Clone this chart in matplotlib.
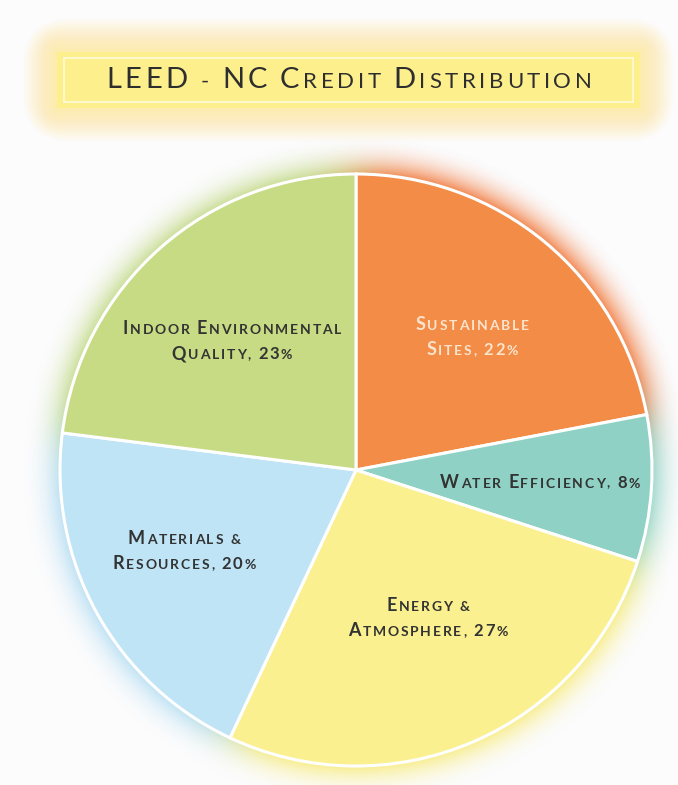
import numpy as np
import matplotlib.pyplot as plt
from matplotlib.colors import to_rgb
from matplotlib.patches import Rectangle, FancyBboxPatch
from matplotlib.offsetbox import TextArea, HPacker, VPacker, AnnotationBbox

# chart data
title = "LEED - NC Credit Distribution"
categories = ["Sustainable Sites", "Water Efficiency", "Energy & Atmosphere",
              "Materials & Resources", "Indoor Environmental Quality"]
label_lines = [["Sustainable", "Sites, 22%"],
               ["Water Efficiency, 8%"],
               ["Energy &", "Atmosphere, 27%"],
               ["Materials &", "Resources, 20%"],
               ["Indoor Environmental", "Quality, 23%"]]
shares = [22, 8, 27, 20, 23]
colors = ["#F28C46", "#8FD2C5", "#FAF08F", "#BEE4F6", "#C6DB83"]
glow_colors = ["#F2783A", "#7FCDBE", "#F8EC7A", "#A9D9F2", "#B9D473"]
glow_strength = [0.9, 0.75, 0.85, 0.75, 0.75]
text_colors = ["#FBE3CC", "#333333", "#333333", "#333333", "#333333"]

W, H = 678, 785
cx, cy, R = 356, H - 470, 296
label_pos = [(472, H - 337), (540, H - 482), (428, H - 618),
             (184, H - 551), (232, H - 341)]

FONT = "Lato"

fig = plt.figure(figsize=(W / 100, H / 100), dpi=100)
fig.patch.set_facecolor("#FCFCFD")
ax = fig.add_axes([0, 0, 1, 1])
ax.set_xlim(0, W)
ax.set_ylim(0, H)
ax.axis('off')


def sc_line(text, big, small, color, track=1.2, weight='bold'):
    # fake small caps, one TextArea per character so we get tracking
    boxes = []
    words = text.split(' ')
    for wi, word in enumerate(words):
        for j, ch in enumerate(word):
            if ch.isalpha() and (j == 0 or word.isupper()):
                size = big
            elif ch.isdigit():
                size = (big + small) / 2 + 0.5
            else:
                size = small
            boxes.append(TextArea(ch.upper(), textprops=dict(
                size=size, color=color, family=FONT, weight=weight)))
        if wi < len(words) - 1:
            boxes.append(TextArea(" ", textprops=dict(size=small, family=FONT)))
    return HPacker(children=boxes, align='baseline', pad=0, sep=track)


def sc_block(lines, big, small, color, track=1.2, vsep=4, weight='bold'):
    rows = [sc_line(l, big, small, color, track, weight) for l in lines]
    return VPacker(children=rows, align='center', pad=0, sep=vsep)


# title box with glow
tx0, ty0, tw, th = 57, H - 108, 583, 56
for k in range(26, 0, -1):
    ax.add_patch(FancyBboxPatch((tx0 - k * 1.3, ty0 - k * 1.3), tw + k * 2.6, th + k * 2.6,
                                boxstyle="round,pad=0,rounding_size=%g" % (k * 1.8),
                                facecolor="#FCEC80", edgecolor='none', alpha=0.03, zorder=1))
ax.add_patch(Rectangle((tx0, ty0), tw, th, facecolor="#FCEF8C", edgecolor='none', zorder=2))
ax.add_patch(Rectangle((tx0 + 7, ty0 + 6), tw - 14, th - 12, facecolor='none',
                       edgecolor="#FFF8CC", lw=1.5, zorder=3))
tb = sc_block([title], 21, 16, "#2E2E2E", track=2.6, weight='normal')
ax.add_artist(AnnotationBbox(tb, (349, H - 80), frameon=False, pad=0,
                             box_alignment=(0.5, 0.5), zorder=4))

# soft glow around the pie, blended between neighbouring slices
X, Y = np.meshgrid(np.arange(W) + 0.5, np.arange(H) + 0.5)
dist = np.hypot(X - cx, Y - cy)
phi = (90 - np.degrees(np.arctan2(Y - cy, X - cx))) % 360
edges = np.cumsum([0] + shares) * 3.6
sig = lambda v: 1 / (1 + np.exp(-v))
weights = []
for i in range(len(shares)):
    d0 = ((phi - edges[i] + 180) % 360) - 180
    d1 = ((edges[i + 1] - phi + 180) % 360) - 180
    weights.append(sig(d0 / 3.0) * sig(d1 / 3.0))
weights = np.array(weights)
weights /= weights.sum(axis=0)
rgb = np.zeros((H, W, 3))
amp = np.zeros((H, W))
for i in range(len(shares)):
    rgb += weights[i][..., None] * np.array(to_rgb(glow_colors[i]))
    amp += weights[i] * glow_strength[i]
t = np.clip((dist - R) / 42.0, 0, 1)
alpha = amp * (1 - t) ** 2.4
glow = np.dstack([rgb, alpha])
ax.imshow(glow, extent=(0, W, 0, H), origin='lower', zorder=1, interpolation='bilinear')

ax.pie(shares, colors=colors, startangle=90, counterclock=False,
       center=(cx, cy), radius=R,
       wedgeprops=dict(edgecolor='white', linewidth=2.2, zorder=5))
ax.set_xlim(0, W)
ax.set_ylim(0, H)
ax.set_aspect('equal')
ax.axis('off')

for lines, (x, y), c in zip(label_lines, label_pos, text_colors):
    blk = sc_block(lines, 13, 10, c, track=1.3, vsep=6)
    ax.add_artist(AnnotationBbox(blk, (x, y), frameon=False, pad=0,
                                 box_alignment=(0.5, 0.5), zorder=6))

fig.savefig("out.png", dpi=100, facecolor=fig.get_facecolor())
